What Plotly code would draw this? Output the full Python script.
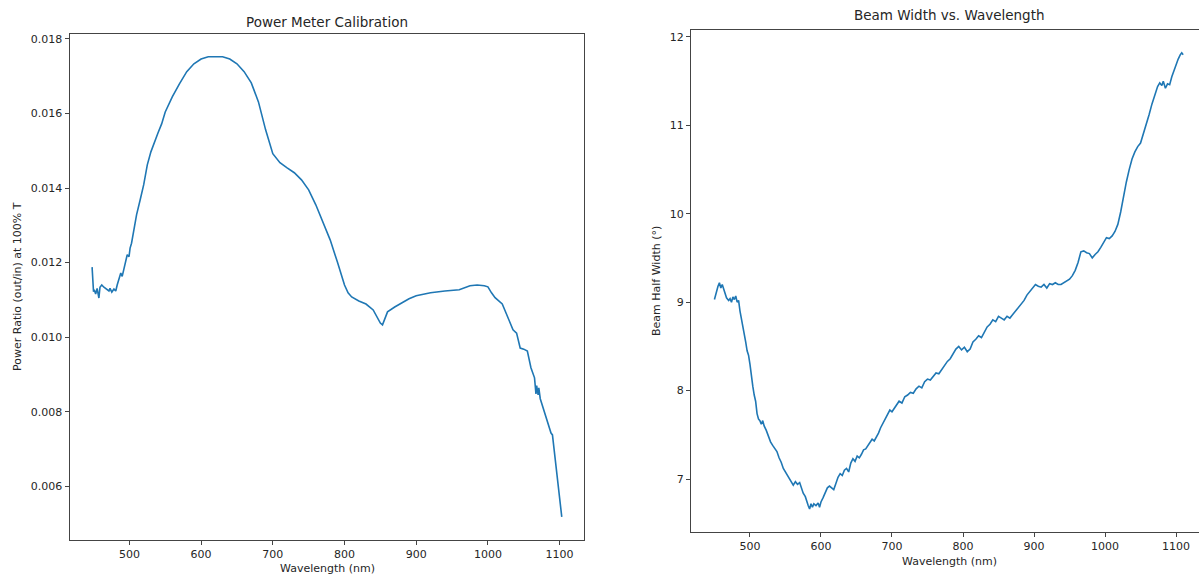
import plotly.graph_objects as go

# Power meter calibration: wavelength (nm) and power ratio
cal_wavelength = [448, 450, 451, 453, 455, 457.5, 459, 461.5, 464.5, 468.5, 471.5, 473, 475.5,
                  478.5, 481, 483, 485.5, 488, 490, 492.5, 495, 497, 499.5, 501, 503, 506.5,
                  510, 515, 520, 525, 530, 540, 545, 550, 560, 570, 580, 590, 600, 610, 620,
                  630, 640, 650, 660, 670, 680, 690, 700, 710, 720, 730, 740, 750, 760, 770,
                  780, 790, 800, 805, 810, 820, 830, 840, 845, 850, 853, 856, 860, 870, 880,
                  890, 900, 920, 940, 960, 975, 985, 995, 1000, 1005, 1010, 1020, 1030, 1035,
                  1040, 1045, 1050, 1055, 1060, 1065, 1067, 1068, 1070, 1071, 1073, 1077,
                  1080, 1085, 1088, 1090, 1093, 1097, 1099, 1101, 1103]
cal_ratio = [0.01188, 0.01122, 0.01127, 0.01116, 0.01131, 0.01105, 0.01134, 0.01140, 0.01134,
             0.01129, 0.01124, 0.01131, 0.01121, 0.01129, 0.01124, 0.01140, 0.01158, 0.01172,
             0.01163, 0.01185, 0.01198, 0.01221, 0.01216, 0.01239, 0.01252, 0.01288,
             0.01328, 0.01368, 0.01409, 0.01462, 0.01497, 0.01548, 0.01572, 0.01604, 0.01645,
             0.01680, 0.01712, 0.01733, 0.01746, 0.01752, 0.01752, 0.01752, 0.01746, 0.01733,
             0.01712, 0.01682, 0.01631, 0.01556, 0.01492, 0.01468, 0.01454, 0.01441, 0.01422,
             0.01395, 0.01355, 0.01309, 0.01261, 0.01202, 0.01140, 0.01119, 0.01108, 0.01097,
             0.01089, 0.01073, 0.01054, 0.01038, 0.01033, 0.01046, 0.01068, 0.01081, 0.01092,
             0.01103, 0.01111, 0.01119, 0.01124, 0.01127, 0.01138, 0.01140, 0.01138, 0.01135,
             0.01119, 0.01106, 0.01089, 0.01041, 0.01020, 0.01011, 0.00971, 0.00968, 0.00963,
             0.00918, 0.00891, 0.00848, 0.00870, 0.00845, 0.00864, 0.00835, 0.00810, 0.00792,
             0.00765, 0.00743, 0.00738, 0.00684, 0.00623, 0.00585, 0.00558, 0.00518]

# Beam half width (degrees) versus wavelength (nm)
beam_wavelength = [450, 452, 455, 457, 459, 461, 464, 467, 470, 472, 474, 476, 478, 480, 482,
                   484, 486, 488, 490, 492, 494, 496, 498, 500, 502, 504, 506, 508, 510, 512,
                   514, 516, 518, 520, 523, 526, 529, 532, 535, 538, 541, 544, 547, 550, 553,
                   556, 559, 561, 564, 567, 570, 572, 575, 578, 580, 582, 584, 586, 588, 590,
                   593, 596, 598, 600, 603, 606, 609, 612, 615, 618, 621, 624, 627, 630, 633,
                   636, 639, 642, 645, 648, 651, 654, 657, 660, 663, 666, 669, 672, 675, 678,
                   681, 684, 687, 690, 694, 697, 700, 703, 706, 710, 714, 718, 722, 726, 730,
                   734, 738, 742, 746, 750, 754, 758, 762, 766, 770, 774, 778, 782, 786, 790,
                   794, 798, 802, 806, 810, 814, 818, 822, 826, 830, 834, 838, 842, 846, 850,
                   854, 858, 862, 866, 870, 874, 878, 882, 886, 890, 894, 898, 902, 906, 910,
                   914, 918, 922, 926, 930, 934, 938, 942, 946, 950, 954, 958, 962, 966, 970,
                   974, 978, 982, 986, 990, 994, 998, 1002, 1006, 1010, 1014, 1018, 1022, 1026,
                   1030, 1034, 1038, 1042, 1046, 1050, 1054, 1058, 1062, 1066, 1070, 1074,
                   1077, 1080, 1082, 1085, 1088, 1091, 1094, 1097, 1100, 1103, 1106, 1108, 1110]
beam_half_width = [9.03, 9.10, 9.18, 9.22, 9.16, 9.20, 9.12, 9.05, 9.02, 9.04, 9.00, 9.06, 9.03,
                   9.07, 9.00, 9.02, 8.90, 8.82, 8.72, 8.62, 8.55, 8.45, 8.40, 8.30, 8.15, 8.05,
                   7.95, 7.88, 7.74, 7.68, 7.66, 7.62, 7.66, 7.60, 7.55, 7.48, 7.42, 7.38, 7.35,
                   7.31, 7.24, 7.19, 7.12, 7.08, 7.03, 6.99, 6.95, 6.93, 6.97, 6.94, 6.96, 6.90,
                   6.84, 6.80, 6.74, 6.70, 6.66, 6.72, 6.68, 6.72, 6.70, 6.73, 6.68, 6.74, 6.79,
                   6.85, 6.90, 6.92, 6.90, 6.88, 6.95, 7.02, 7.06, 7.04, 7.10, 7.12, 7.08, 7.18,
                   7.23, 7.20, 7.26, 7.24, 7.28, 7.33, 7.34, 7.38, 7.42, 7.45, 7.43, 7.47, 7.52,
                   7.58, 7.63, 7.68, 7.74, 7.78, 7.76, 7.80, 7.84, 7.88, 7.86, 7.93, 7.95, 7.98,
                   7.97, 8.02, 8.05, 8.03, 8.10, 8.13, 8.12, 8.16, 8.20, 8.19, 8.24, 8.28, 8.33,
                   8.36, 8.42, 8.47, 8.50, 8.46, 8.49, 8.44, 8.47, 8.55, 8.58, 8.62, 8.60, 8.66,
                   8.72, 8.75, 8.80, 8.78, 8.84, 8.82, 8.80, 8.84, 8.82, 8.86, 8.90, 8.95, 8.98,
                   9.02, 9.08, 9.12, 9.15, 9.20, 9.18, 9.17, 9.20, 9.16, 9.21, 9.20, 9.22, 9.20,
                   9.20, 9.22, 9.24, 9.26, 9.30, 9.36, 9.45, 9.57, 9.58, 9.56, 9.55, 9.50, 9.54,
                   9.57, 9.62, 9.68, 9.73, 9.72, 9.75, 9.80, 9.88, 10.02, 10.20, 10.36, 10.50,
                   10.62, 10.70, 10.76, 10.80, 10.90, 11.02, 11.12, 11.24, 11.34, 11.44, 11.48,
                   11.45, 11.50, 11.42, 11.47, 11.46, 11.55, 11.62, 11.68, 11.75, 11.80, 11.82,
                   11.80]

cal_ticks = [0.006, 0.008, 0.010, 0.012, 0.014, 0.016, 0.018]
beam_ticks = [7, 8, 9, 10, 11, 12]
wl_ticks = [500, 600, 700, 800, 900, 1000, 1100]

W, H = 1199, 575
LINE = "#1f77b4"
INK = "#262626"
FONT = "DejaVu Sans"


def px(x):
    return x / W


def py(y):
    return 1 - y / H


fig = go.Figure()
fig.add_trace(go.Scatter(x=cal_wavelength, y=cal_ratio, mode="lines",
                         line=dict(color=LINE, width=1.6), xaxis="x", yaxis="y",
                         showlegend=False))
fig.add_trace(go.Scatter(x=beam_wavelength, y=beam_half_width, mode="lines",
                         line=dict(color=LINE, width=1.6), xaxis="x2", yaxis="y2",
                         showlegend=False))

axis_common = dict(showgrid=False, zeroline=False, showline=True, linecolor="#444",
                   linewidth=1, ticks="outside", ticklen=4, tickcolor="#444",
                   tickfont=dict(family=FONT, size=11, color=INK))

fig.update_layout(
    width=W, height=H,
    margin=dict(l=0, r=0, t=0, b=0),
    paper_bgcolor="white", plot_bgcolor="white",
    xaxis=dict(domain=[px(69.5), px(584)], range=[416.5, 1134], tickvals=wl_ticks,
               anchor="y", mirror=True, **axis_common),
    yaxis=dict(domain=[py(540), py(34)], range=[0.004562, 0.01813], tickvals=cal_ticks,
               tickformat=".3f", anchor="x", mirror=True, **axis_common),
    xaxis2=dict(domain=[px(691), 1.0], range=[417, 1132.3], tickvals=wl_ticks,
                anchor="y2", mirror=True, **axis_common),
    yaxis2=dict(domain=[py(531.7), py(29.8)], range=[6.404, 12.081], tickvals=beam_ticks,
                anchor="x2", mirror=False, **axis_common),
)

text_font = dict(family=FONT, size=11, color=INK)
title_font = dict(family=FONT, size=13.5, color=INK)
annotations = [
    dict(text="Power Meter Calibration", x=px(327), y=py(22), font=title_font),
    dict(text="Beam Width vs. Wavelength", x=px(949), y=py(15), font=title_font),
    dict(text="Wavelength (nm)", x=px(327), y=py(568), font=text_font),
    dict(text="Wavelength (nm)", x=px(949), y=py(561), font=text_font),
    dict(text="Power Ratio (out/in) at 100% T", x=px(17), y=py(287), font=text_font,
         textangle=-90),
    dict(text="Beam Half Width (°)", x=px(657), y=py(281), font=text_font, textangle=-90),
]
for a in annotations:
    fig.add_annotation(xref="paper", yref="paper", showarrow=False,
                       xanchor="center", yanchor="middle", **a)

fig.write_html("out.html")
